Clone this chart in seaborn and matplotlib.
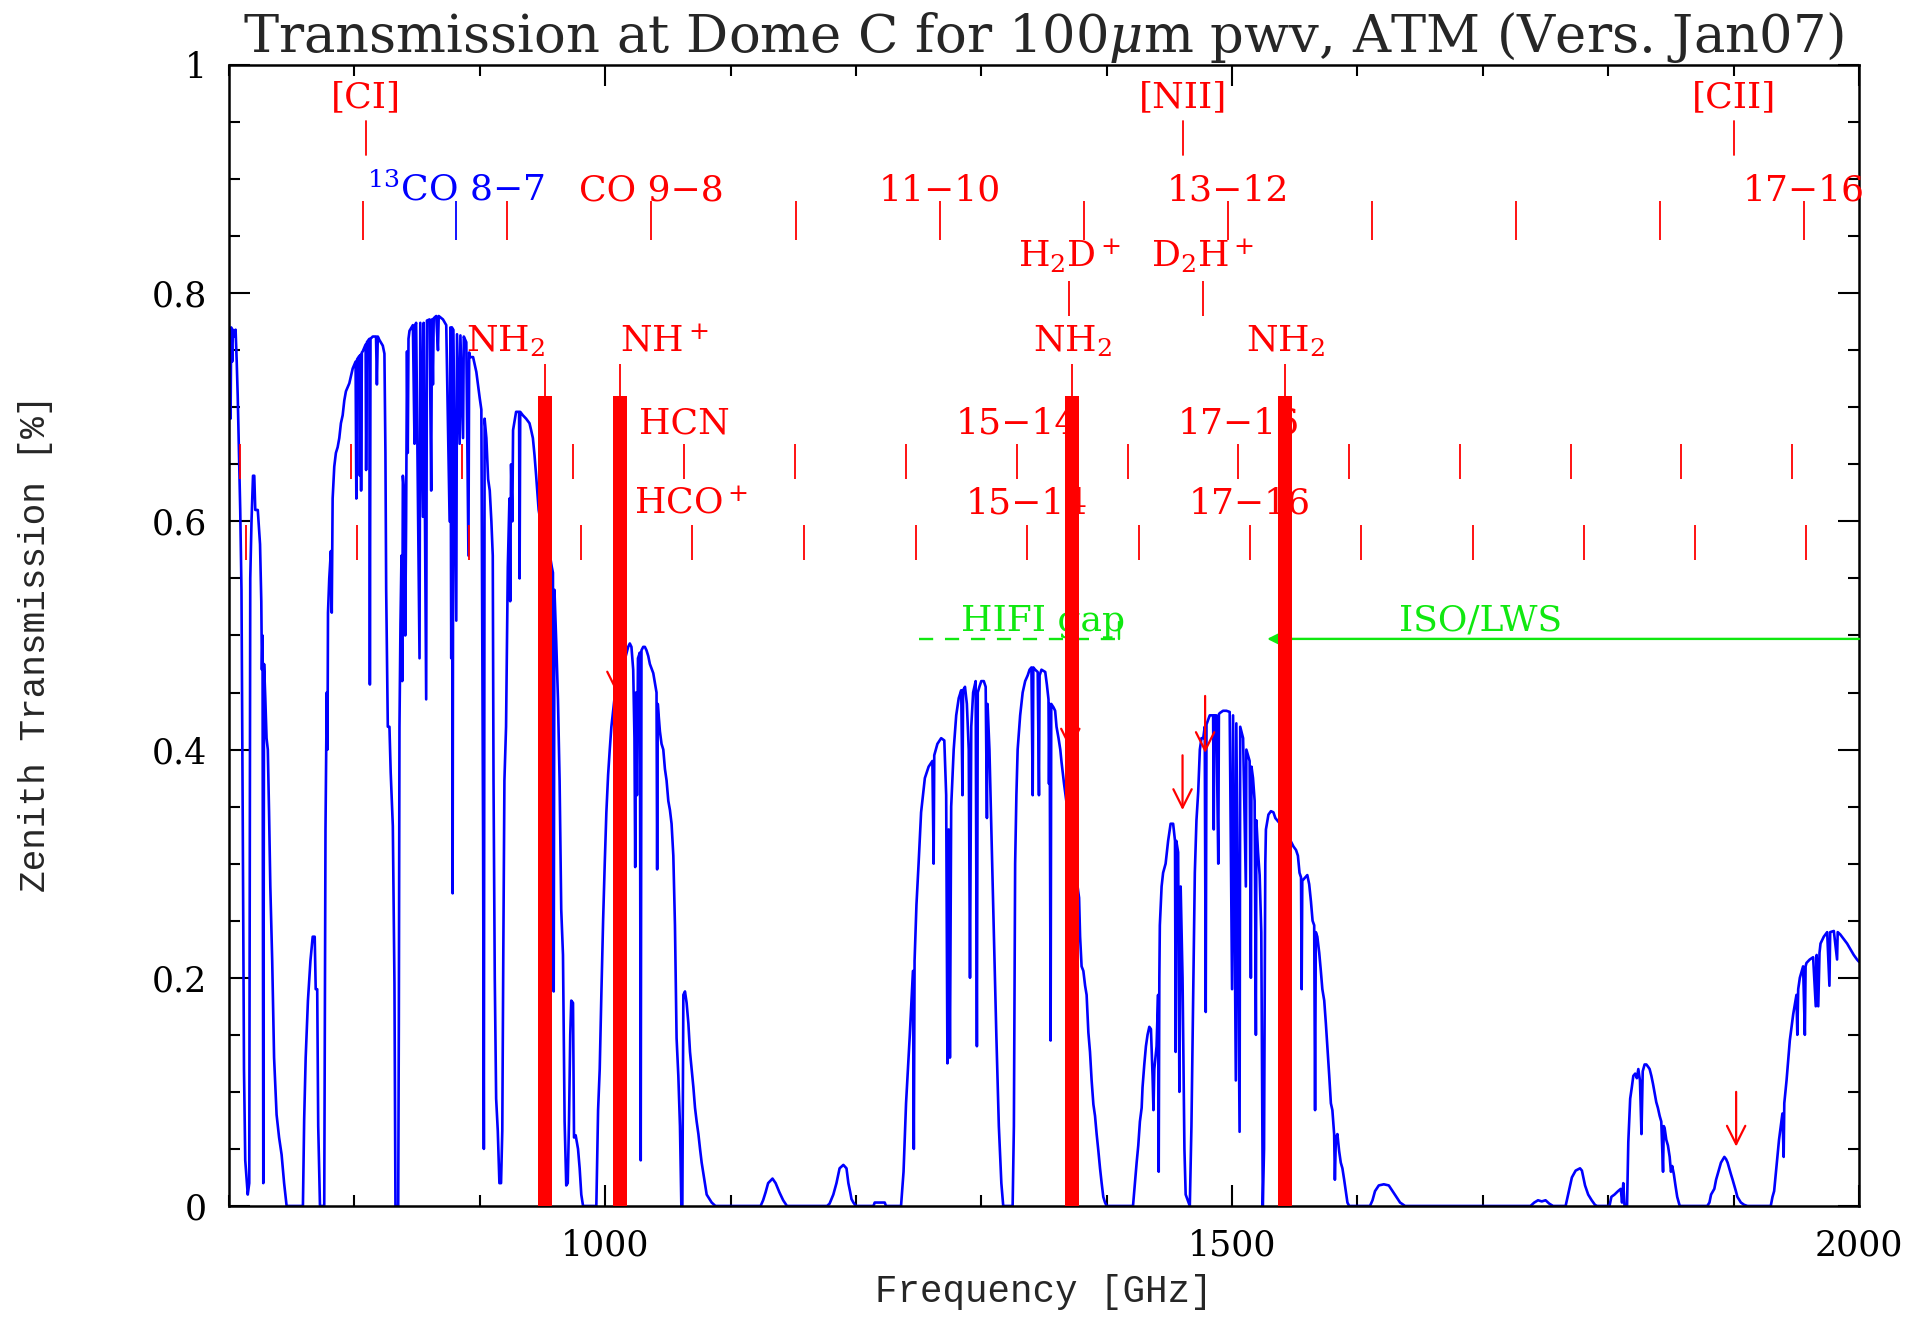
import numpy as np
import pandas as pd
import matplotlib
matplotlib.use("Agg")
import matplotlib.pyplot as plt
import seaborn as sns

# zenith transmission, one list per window: (GHz, fraction)
band_700 = [(700.0, 0.70), (700.6, 0.76), (701.3, 0.69), (701.8, 0.77), (702.6, 0.74), (703.2, 0.768),
            (704.5, 0.762), (705.3, 0.768), (706.2, 0.74), (707.0, 0.71), (708.0, 0.66), (709.0, 0.61),
            (710.0, 0.54), (711.0, 0.34), (712.0, 0.12), (713.0, 0.04), (715.0, 0.01), (716.2, 0.02),
            (717.0, 0.55), (718.0, 0.60), (719.2, 0.64), (720.2, 0.64), (721.0, 0.61), (723.0, 0.61),
            (724.8, 0.58), (725.8, 0.53), (726.3, 0.47), (726.8, 0.50), (727.4, 0.02), (728.0, 0.475),
            (729.0, 0.445), (730.0, 0.41), (731.0, 0.40), (732.0, 0.345), (733.0, 0.28), (734.5, 0.215),
            (736.0, 0.13), (738.0, 0.08), (740.0, 0.06), (742.0, 0.045), (744.0, 0.02), (746.0, 0.0),
            (759.0, 0.0)]
band_760 = [(760.0, 0.076), (761.2, 0.13), (763.0, 0.18), (765.0, 0.215), (766.8, 0.236), (768.4, 0.236),
            (769.2, 0.19), (770.4, 0.19), (771.2, 0.07), (772.6, 0.0), (776.0, 0.0)]
band_780 = [(777.0, 0.33), (778.0, 0.45), (778.6, 0.40), (779.0, 0.52), (780.0, 0.55), (781.3, 0.574),
            (782.0, 0.52), (782.7, 0.62), (784.0, 0.648), (785.3, 0.66), (786.7, 0.665), (788.0, 0.673),
            (789.3, 0.686), (790.7, 0.693), (792.0, 0.706), (793.3, 0.714), (796.0, 0.721), (798.7, 0.734),
            (801.0, 0.74), (801.6, 0.62), (802.2, 0.742), (804.0, 0.745), (804.4, 0.64), (805.0, 0.746),
            (805.4, 0.627), (806.0, 0.748), (806.7, 0.749), (809.0, 0.755), (809.4, 0.645), (810.0, 0.757),
            (812.0, 0.76), (812.4, 0.457), (812.9, 0.76), (814.7, 0.762), (817.3, 0.762), (818.0, 0.72),
            (818.7, 0.762), (820.0, 0.759), (822.7, 0.754), (824.0, 0.747), (824.8, 0.66), (825.4, 0.54),
            (826.7, 0.42), (828.0, 0.42), (829.0, 0.38), (830.7, 0.333), (832.0, 0.195), (832.8, 0.0),
            (835.0, 0.0)]
band_835 = [(835.5, 0.16), (836.0, 0.42), (836.8, 0.51), (837.6, 0.57), (838.2, 0.46), (838.7, 0.64),
            (840.0, 0.62), (840.6, 0.50), (841.3, 0.60), (842.0, 0.749), (842.6, 0.66), (843.2, 0.76),
            (844.0, 0.767), (846.7, 0.772), (848.0, 0.668), (848.6, 0.772), (849.3, 0.774), (852.0, 0.48),
            (852.6, 0.774), (854.7, 0.604), (855.3, 0.774), (857.3, 0.444), (857.9, 0.776), (860.0, 0.777),
            (861.3, 0.627), (861.9, 0.777), (862.7, 0.72), (863.3, 0.778), (865.3, 0.78), (866.7, 0.75),
            (867.3, 0.78), (870.7, 0.777), (873.3, 0.772), (876.0, 0.60), (876.6, 0.77), (877.3, 0.48),
            (877.9, 0.77), (878.4, 0.274), (879.0, 0.768), (881.3, 0.513), (881.9, 0.764), (884.0, 0.668),
            (884.6, 0.763), (886.7, 0.673), (887.3, 0.762), (889.3, 0.757), (891.0, 0.57), (891.6, 0.748),
            (892.0, 0.744), (894.7, 0.744), (897.3, 0.731), (900.0, 0.708), (901.3, 0.698), (902.7, 0.32),
            (903.3, 0.05), (903.9, 0.69), (905.3, 0.673), (906.7, 0.637), (908.0, 0.627), (909.3, 0.60),
            (910.4, 0.57), (911.0, 0.373), (912.0, 0.20), (913.1, 0.094), (914.4, 0.066), (915.7, 0.02),
            (917.0, 0.02)]
band_918 = [(918.0, 0.066), (918.8, 0.22), (919.7, 0.373), (921.0, 0.42), (922.4, 0.56), (923.7, 0.62),
            (924.3, 0.53), (925.0, 0.65), (926.0, 0.60), (926.6, 0.68), (929.0, 0.696), (931.4, 0.696),
            (931.8, 0.55), (932.3, 0.696), (934.4, 0.693), (937.0, 0.69), (939.7, 0.686), (941.0, 0.68),
            (942.4, 0.673), (943.7, 0.658), (945.0, 0.64), (947.0, 0.61), (950.0, 0.59), (953.0, 0.58),
            (956.0, 0.57), (957.5, 0.56), (958.4, 0.555), (959.0, 0.188), (959.6, 0.54), (961.0, 0.495),
            (962.4, 0.444), (963.7, 0.373), (965.0, 0.26), (966.4, 0.22), (967.7, 0.074), (969.0, 0.018),
            (970.2, 0.02), (971.2, 0.074), (972.2, 0.15), (973.0, 0.18), (974.4, 0.178), (975.2, 0.06),
            (976.5, 0.062), (978.4, 0.05), (979.7, 0.033), (981.0, 0.01), (982.4, 0.0), (993.0, 0.0)]
band_993 = [(994.4, 0.084), (995.7, 0.12), (997.0, 0.185), (998.4, 0.25), (999.7, 0.30), (1001.0, 0.345),
            (1002.4, 0.378), (1003.7, 0.40), (1005.0, 0.42), (1008.0, 0.45), (1012.0, 0.47), (1016.0, 0.48),
            (1018.4, 0.49), (1019.7, 0.493), (1021.0, 0.49), (1022.4, 0.47), (1023.4, 0.41), (1024.0, 0.297),
            (1024.6, 0.45), (1025.4, 0.36), (1026.2, 0.48), (1027.7, 0.485), (1028.4, 0.04), (1029.0, 0.487),
            (1030.4, 0.49), (1031.7, 0.49), (1033.0, 0.487), (1034.4, 0.482), (1035.7, 0.475), (1038.4, 0.467),
            (1041.0, 0.45), (1041.5, 0.295), (1042.0, 0.44), (1043.7, 0.416), (1045.0, 0.405), (1046.4, 0.40),
            (1047.7, 0.383), (1049.0, 0.373), (1050.4, 0.355), (1051.7, 0.347), (1053.0, 0.335),
            (1054.4, 0.307), (1055.7, 0.246), (1057.0, 0.147), (1058.4, 0.114), (1059.7, 0.07),
            (1060.8, 0.0), (1061.6, 0.0), (1062.4, 0.185), (1063.7, 0.188), (1065.0, 0.178), (1066.4, 0.16),
            (1067.7, 0.135), (1069.0, 0.12), (1070.4, 0.104), (1071.7, 0.086), (1073.0, 0.074),
            (1074.4, 0.063), (1075.7, 0.05), (1077.0, 0.038), (1078.4, 0.028), (1081.0, 0.01),
            (1085.0, 0.003), (1088.0, 0.0), (1124.0, 0.0)]
band_1124 = [(1126.0, 0.005), (1128.0, 0.012), (1130.0, 0.02), (1133.5, 0.024), (1136.0, 0.02),
             (1139.0, 0.012), (1142.0, 0.005), (1145.0, 0.0), (1177.0, 0.0), (1179.0, 0.002), (1182.0, 0.01),
             (1184.5, 0.02), (1187.0, 0.033), (1190.0, 0.036), (1192.5, 0.033), (1194.0, 0.02),
             (1195.5, 0.012), (1196.5, 0.006), (1198.0, 0.003), (1200.0, 0.0), (1214.0, 0.0), (1215.0, 0.003),
             (1223.0, 0.003), (1224.0, 0.0), (1236.0, 0.0)]
band_1236 = [(1238.0, 0.03), (1240.0, 0.09), (1243.0, 0.15), (1245.5, 0.206), (1246.2, 0.05), (1246.8, 0.215),
             (1248.3, 0.264), (1250.0, 0.30), (1252.0, 0.345), (1255.0, 0.375), (1258.0, 0.385),
             (1261.0, 0.39), (1262.0, 0.30), (1262.5, 0.395), (1265.0, 0.405), (1268.0, 0.41),
             (1270.5, 0.408), (1272.0, 0.36), (1273.0, 0.125), (1274.0, 0.33), (1275.0, 0.13), (1276.0, 0.35),
             (1278.0, 0.40), (1280.0, 0.43), (1282.0, 0.445), (1284.0, 0.452), (1285.0, 0.36),
             (1285.5, 0.452), (1287.0, 0.455), (1288.5, 0.44), (1290.0, 0.40), (1291.0, 0.20), (1292.0, 0.42),
             (1293.5, 0.45), (1295.5, 0.46), (1296.5, 0.14), (1297.2, 0.45), (1298.5, 0.455), (1300.0, 0.46),
             (1302.0, 0.46), (1303.5, 0.455), (1304.5, 0.34), (1305.0, 0.44), (1306.5, 0.40), (1308.0, 0.33),
             (1310.0, 0.24), (1312.0, 0.15), (1314.0, 0.07), (1316.0, 0.02), (1317.5, 0.0), (1325.0, 0.0)]
band_1324 = [(1326.0, 0.07), (1327.0, 0.30), (1328.0, 0.36), (1329.0, 0.40), (1331.0, 0.43), (1333.0, 0.45),
             (1335.0, 0.46), (1337.0, 0.465), (1338.5, 0.47), (1340.0, 0.472), (1341.0, 0.36), (1341.5, 0.472),
             (1343.0, 0.47), (1345.0, 0.468), (1346.0, 0.36), (1346.5, 0.465), (1348.0, 0.47), (1351.0, 0.468),
             (1352.3, 0.457), (1353.6, 0.444), (1354.0, 0.37), (1354.5, 0.44), (1355.3, 0.145),
             (1355.8, 0.44), (1357.6, 0.437), (1358.9, 0.434), (1360.0, 0.42), (1361.6, 0.41), (1363.0, 0.40),
             (1364.0, 0.389), (1366.0, 0.37), (1372.0, 0.32), (1378.0, 0.27), (1378.8, 0.236), (1380.0, 0.21),
             (1381.4, 0.206), (1382.8, 0.193), (1384.0, 0.185), (1385.4, 0.152), (1386.7, 0.135),
             (1388.0, 0.11), (1389.4, 0.089), (1390.7, 0.079), (1392.0, 0.063), (1393.4, 0.048),
             (1394.7, 0.033), (1396.0, 0.02), (1397.3, 0.008), (1398.7, 0.003), (1400.0, 0.0), (1421.0, 0.0)]
band_1421 = [(1422.5, 0.02), (1423.9, 0.038), (1425.2, 0.053), (1426.5, 0.074), (1427.9, 0.086),
             (1428.6, 0.104), (1430.0, 0.124), (1431.3, 0.14), (1432.6, 0.15), (1434.0, 0.157),
             (1435.3, 0.155), (1436.6, 0.114), (1437.3, 0.084), (1438.0, 0.12), (1439.8, 0.14), (1441.0, 0.185),
             (1441.5, 0.03), (1442.0, 0.20), (1442.4, 0.246), (1443.8, 0.28), (1445.0, 0.292), (1447.0, 0.30),
             (1449.0, 0.32), (1451.0, 0.335), (1453.0, 0.335), (1454.5, 0.32), (1455.0, 0.135), (1455.5, 0.32),
             (1457.0, 0.31), (1458.0, 0.10), (1459.0, 0.28), (1460.5, 0.20), (1462.0, 0.05), (1463.0, 0.01),
             (1466.3, 0.0)]
band_1466 = [(1467.6, 0.07), (1469.0, 0.185), (1470.3, 0.292), (1471.6, 0.338), (1473.0, 0.363),
             (1474.3, 0.40), (1475.6, 0.41), (1477.0, 0.41), (1478.2, 0.42), (1479.0, 0.17), (1479.6, 0.422),
             (1482.2, 0.43), (1484.9, 0.43), (1485.4, 0.33), (1485.9, 0.43), (1487.5, 0.43), (1489.0, 0.30),
             (1489.5, 0.431), (1490.2, 0.432), (1492.8, 0.434), (1495.5, 0.434), (1498.1, 0.433),
             (1500.0, 0.19), (1500.8, 0.43), (1503.0, 0.11), (1503.4, 0.423), (1506.0, 0.065), (1506.5, 0.42),
             (1508.8, 0.41), (1511.0, 0.28), (1511.4, 0.40), (1514.0, 0.39), (1515.0, 0.20), (1515.5, 0.385),
             (1516.7, 0.375), (1518.0, 0.355), (1519.0, 0.15), (1519.4, 0.338), (1520.7, 0.31), (1522.0, 0.29),
             (1523.3, 0.24), (1524.5, 0.0), (1525.5, 0.05), (1526.5, 0.30), (1527.0, 0.33), (1529.0, 0.343),
             (1531.0, 0.346), (1533.0, 0.345), (1534.5, 0.34), (1542.0, 0.33), (1549.0, 0.315),
             (1551.0, 0.312), (1552.5, 0.307), (1553.8, 0.292), (1555.0, 0.288), (1555.5, 0.19),
             (1556.0, 0.285), (1557.6, 0.287), (1560.0, 0.29), (1561.5, 0.282), (1562.9, 0.267),
             (1564.2, 0.25), (1565.5, 0.246), (1566.2, 0.084), (1566.8, 0.24), (1568.0, 0.236),
             (1569.5, 0.222), (1570.8, 0.206), (1572.0, 0.19), (1573.5, 0.18), (1574.8, 0.16), (1576.0, 0.14),
             (1577.5, 0.114), (1578.8, 0.09), (1580.0, 0.084), (1581.4, 0.063), (1582.0, 0.023),
             (1582.8, 0.06), (1584.0, 0.063), (1585.4, 0.048), (1586.7, 0.038), (1588.0, 0.033),
             (1589.4, 0.023), (1590.7, 0.013), (1592.0, 0.003), (1593.4, 0.0), (1610.0, 0.0)]
band_1610 = [(1612.0, 0.005), (1614.0, 0.013), (1617.0, 0.018), (1621.0, 0.019), (1625.0, 0.018),
             (1628.0, 0.013), (1631.0, 0.008), (1634.0, 0.003), (1638.0, 0.0), (1738.0, 0.0), (1741.0, 0.003),
             (1744.0, 0.005), (1747.0, 0.004), (1750.0, 0.005), (1753.0, 0.002), (1756.0, 0.0), (1766.0, 0.0),
             (1768.0, 0.01), (1771.0, 0.025), (1774.0, 0.031), (1777.5, 0.033), (1779.0, 0.031),
             (1781.5, 0.018), (1784.0, 0.01), (1786.8, 0.005), (1789.4, 0.001), (1791.0, 0.0), (1801.0, 0.0),
             (1802.5, 0.008), (1805.0, 0.01), (1807.8, 0.013), (1810.0, 0.015), (1811.0, 0.003),
             (1812.0, 0.02), (1813.0, 0.0), (1815.0, 0.0)]
band_1815 = [(1816.0, 0.056), (1817.5, 0.094), (1818.8, 0.104), (1820.0, 0.114), (1821.5, 0.116),
             (1822.8, 0.112), (1824.0, 0.12), (1825.3, 0.11), (1826.5, 0.063), (1827.5, 0.118),
             (1829.0, 0.124), (1830.4, 0.124), (1831.8, 0.122), (1833.0, 0.12), (1834.4, 0.114),
             (1835.7, 0.107), (1837.0, 0.099), (1838.3, 0.091), (1839.6, 0.086), (1841.0, 0.079),
             (1842.3, 0.074), (1843.7, 0.03), (1844.3, 0.07), (1845.0, 0.068), (1846.3, 0.058),
             (1847.6, 0.053), (1849.0, 0.043), (1850.0, 0.03), (1851.0, 0.035), (1852.3, 0.028),
             (1853.6, 0.018), (1855.0, 0.008), (1857.0, 0.0), (1879.0, 0.0)]
band_1879 = [(1880.7, 0.003), (1882.0, 0.01), (1884.6, 0.015), (1886.0, 0.023), (1887.3, 0.028),
             (1889.9, 0.038), (1892.6, 0.043), (1894.0, 0.041), (1895.2, 0.038), (1896.5, 0.033),
             (1897.8, 0.028), (1899.2, 0.023), (1900.5, 0.018), (1901.8, 0.013), (1903.0, 0.008),
             (1905.8, 0.003), (1908.4, 0.001), (1911.0, 0.0), (1929.6, 0.0)]
band_1930 = [(1931.0, 0.008), (1932.3, 0.013), (1933.6, 0.028), (1934.9, 0.043), (1936.2, 0.058),
             (1937.6, 0.07), (1938.9, 0.081), (1939.9, 0.043), (1940.4, 0.09), (1942.2, 0.11),
             (1944.8, 0.145), (1947.5, 0.168), (1950.1, 0.185), (1950.8, 0.15), (1951.5, 0.19),
             (1952.8, 0.20), (1955.4, 0.21), (1956.8, 0.15), (1957.4, 0.21), (1958.1, 0.213), (1960.7, 0.216),
             (1963.4, 0.218), (1965.5, 0.175), (1966.2, 0.22), (1967.5, 0.175), (1968.5, 0.222),
             (1969.3, 0.23), (1971.9, 0.236), (1974.6, 0.24), (1976.4, 0.193), (1977.0, 0.24),
             (1979.9, 0.241), (1982.5, 0.216), (1983.0, 0.24), (1985.0, 0.238), (1990.5, 0.23),
             (1995.8, 0.22), (1998.4, 0.216), (2000.0, 0.214)]

bands = [band_700, band_760, band_780, band_835, band_918, band_993, band_1124, band_1236,
         band_1324, band_1421, band_1466, band_1610, band_1815, band_1879, band_1930]

# fine structure lines
fine_freq = [809.34, 1461.13, 1900.54]
fine_names = ['[CI]', '[NII]', '[CII]']

# CO ladder (7-6 ... 17-16) and 13CO 8-7
co_freq = [806.65, 921.80, 1036.91, 1151.99, 1267.01, 1381.99, 1496.92, 1611.79, 1726.60, 1841.35, 1956.02]
co_label_freq = [1036.91, 1267.01, 1496.92, 1956.02]
co_label_text = ['CO 9\u22128', '11\u221210', '13\u221212', '17\u221216']
co13_freq = 881.27

# deuterated H3+
h3p_freq = [1370.08, 1476.61]
h3p_names = ['H$_2$D$^+$', 'D$_2$H$^+$']

# NH2 / NH+ lines marked with thick bars
nh_freq = [952.0, 1012.0, 1372.5, 1542.5]
nh_names = ['NH$_2$', 'NH$^+$', 'NH$_2$', 'NH$_2$']
nh_align = ['right', 'left', 'center', 'center']
nh_bar_top = 0.71

# HCN and HCO+ ladders
hcn_freq = [708.88, 797.43, 885.97, 974.49, 1062.98, 1151.45, 1239.89, 1328.30, 1416.69, 1505.05,
            1593.37, 1681.66, 1769.91, 1858.13, 1946.31]
hcn_label_freq = [1062.98, 1328.30, 1505.05]
hcn_label_text = ['HCN', '15\u221214', '17\u221216']
hcop_freq = [713.34, 802.46, 891.56, 980.64, 1069.69, 1158.71, 1247.68, 1336.61, 1425.50, 1514.34,
             1603.13, 1691.86, 1780.54, 1869.16, 1957.71]
hcop_label_freq = [1068.7, 1336.61, 1514.34]
hcop_label_text = ['HCO$^+$', '15\u221214', '17\u221216']

# instrument coverage
hifi_gap = [1250.0, 1410.0]
iso_lws = [1528.0, 2000.0]

# red arrows: (GHz, top, tip)
arrows = [(1009.0, 0.50, 0.45), (1371.0, 0.45, 0.40), (1460.5, 0.395, 0.347),
          (1478.5, 0.447, 0.397), (1902.0, 0.100, 0.052)]

df = pd.concat([pd.DataFrame(b, columns=['freq', 'trans']) for b in bands], ignore_index=True)

sns.set_theme(style='ticks')
plt.rcParams['font.family'] = ['DejaVu Serif']
plt.rcParams['mathtext.fontset'] = 'dejavuserif'

RED = '#ff0000'
GREEN = '#10e810'

fig = plt.figure(figsize=(19.11, 13.18), dpi=100)
ax = fig.add_axes([0.1198, 0.085, 0.853, 0.8657])

sns.lineplot(data=df, x='freq', y='trans', ax=ax, color='#0000ff', lw=1.9,
             estimator=None, sort=False, zorder=2)

txt = dict(fontsize=26, color=RED, zorder=3)
# fine structure lines
for f, n in zip(fine_freq, fine_names):
    ax.plot([f, f], [0.921, 0.951], color=RED, lw=1.3, zorder=3)
    ax.text(f, 0.972, n, ha='center', va='center', **txt)

# CO ladder
ax.vlines(co_freq, 0.847, 0.881, color=RED, lw=1.3, zorder=3)
ax.vlines([co13_freq], 0.847, 0.881, color='#0000ff', lw=1.3, zorder=3)
ax.text(co13_freq, 0.881, '$^{13}$CO 8\u22127', ha='center', va='baseline', fontsize=26,
        color='#0000ff', zorder=3)
for f, t in zip(co_label_freq, co_label_text):
    ax.text(f, 0.881, t, ha='center', va='baseline', **txt)

# H2D+ / D2H+
ax.vlines(h3p_freq, 0.780, 0.811, color=RED, lw=1.3, zorder=3)
for f, n in zip(h3p_freq, h3p_names):
    ax.text(f, 0.822, n, ha='center', va='baseline', **txt)

# HCN / HCO+ ladders
ax.vlines(hcn_freq, 0.637, 0.668, color=RED, lw=1.3, zorder=3)
for f, t in zip(hcn_label_freq, hcn_label_text):
    ax.text(f, 0.677, t, ha='center', va='baseline', **txt)
ax.vlines(hcop_freq, 0.566, 0.597, color=RED, lw=1.3, zorder=3)
for f, t in zip(hcop_label_freq, hcop_label_text):
    ax.text(f, 0.607, t, ha='center', va='baseline', **txt)

# NH2 / NH+ with thick bars
ax.vlines(nh_freq, nh_bar_top, 0.738, color=RED, lw=1.3, zorder=3)
for f, n, a in zip(nh_freq, nh_names, nh_align):
    ax.text(f, 0.749, n, ha=a, va='baseline', **txt)

# arrows
for f, y0, y1 in arrows:
    ax.annotate('', xy=(f, y1), xytext=(f, y0),
                arrowprops=dict(arrowstyle='->,head_length=0.6,head_width=0.3', color=RED, lw=1.6,
                                mutation_scale=22, shrinkA=0, shrinkB=0), zorder=3)

ax.bar(nh_freq, [nh_bar_top] * len(nh_freq), width=11.0, color=RED, zorder=6, linewidth=0)

# instrument ranges
ax.plot(hifi_gap, [0.497, 0.497], color=GREEN, lw=1.7, ls=(0, (6, 5)), zorder=3)
ax.plot([hifi_gap[1], hifi_gap[1]], [0.497, 0.512], color=GREEN, lw=1.7, zorder=3)
ax.text(1349, 0.504, 'HIFI gap', ha='center', va='baseline', fontsize=26, color=GREEN, zorder=3)
ax.annotate('', xy=(iso_lws[0], 0.497), xytext=(iso_lws[1], 0.497),
            arrowprops=dict(arrowstyle='-|>', color=GREEN, lw=1.7, mutation_scale=18,
                            shrinkA=0, shrinkB=0), zorder=3)
ax.text(1698, 0.504, 'ISO/LWS', ha='center', va='baseline', fontsize=26, color=GREEN, zorder=3)

# axes
ax.set_xlim(700, 2000)
ax.set_ylim(0, 1)
ax.set_xticks([1000, 1500, 2000])
ax.set_xticks(np.arange(700, 2001, 100), minor=True)
ax.set_yticks([0, 0.2, 0.4, 0.6, 0.8, 1.0])
ax.set_yticklabels(['0', '0.2', '0.4', '0.6', '0.8', '1'])
ax.set_yticks(np.arange(0, 1.001, 0.05), minor=True)
ax.tick_params(which='both', direction='in', top=True, right=True, width=1.5, colors='black',
               labelsize=25)
ax.tick_params(which='major', length=15)
ax.tick_params(which='minor', length=8)
ax.tick_params(axis='x', pad=16)
ax.tick_params(axis='y', pad=16)
for s in ax.spines.values():
    s.set_linewidth(1.8)
    s.set_color('black')

ax.set_xlabel('Frequency [GHz]', fontsize=27, family='Liberation Mono')
ax.set_ylabel('Zenith Transmission [%]', fontsize=26, family='Liberation Mono')
ax.xaxis.set_label_coords(0.5, -0.06)
ax.yaxis.set_label_coords(-0.108, 0.493)
ax.set_title('Transmission at Dome C for 100$\\mu$m pwv, ATM (Vers. Jan07)', fontsize=38, pad=9)

fig.savefig('out.png', dpi=100, facecolor='white')
